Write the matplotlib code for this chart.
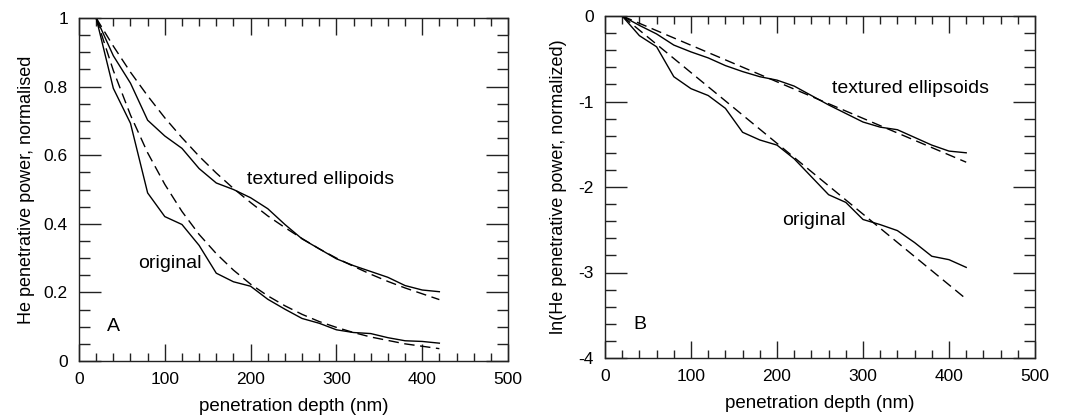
import matplotlib
matplotlib.use("Agg")
import matplotlib.pyplot as plt
from matplotlib.ticker import MultipleLocator

plt.rcParams['font.family'] = ['Liberation Sans', 'DejaVu Sans']

depth = [20, 40, 60, 80, 100, 120, 140, 160, 180, 200, 220, 240, 260, 280,
         300, 320, 340, 360, 380, 400, 420]

# Panel A: normalised He penetrative power
a_original = [1.0, 0.795, 0.693, 0.49, 0.421, 0.398, 0.337, 0.256, 0.231, 0.218,
              0.18, 0.151, 0.124, 0.110, 0.091, 0.083, 0.080, 0.068, 0.059, 0.057, 0.052]
a_original_fit = [1.0, 0.847, 0.717, 0.607, 0.515, 0.436, 0.369, 0.313, 0.265, 0.224,
                  0.190, 0.161, 0.136, 0.115, 0.098, 0.083, 0.070, 0.060, 0.050, 0.043, 0.036]
a_textured = [1.0, 0.89, 0.81, 0.702, 0.656, 0.62, 0.561, 0.519, 0.50, 0.476,
              0.444, 0.398, 0.356, 0.327, 0.298, 0.278, 0.261, 0.244, 0.22, 0.207, 0.202]
a_textured_fit = [1.0, 0.918, 0.842, 0.773, 0.709, 0.651, 0.597, 0.548, 0.503, 0.462,
                  0.423, 0.389, 0.357, 0.327, 0.300, 0.276, 0.253, 0.232, 0.213, 0.196, 0.179]

# Panel B: ln of normalised power
b_original = [0.0, -0.23, -0.36, -0.71, -0.85, -0.93, -1.08, -1.36, -1.45, -1.51,
              -1.67, -1.88, -2.09, -2.18, -2.38, -2.44, -2.51, -2.65, -2.81, -2.85, -2.94]
b_original_fit_x = [20, 420]
b_original_fit = [0.0, -3.31]
b_textured = [0.0, -0.11, -0.21, -0.34, -0.42, -0.49, -0.58, -0.65, -0.71, -0.75,
              -0.82, -0.93, -1.04, -1.14, -1.24, -1.30, -1.33, -1.42, -1.51, -1.58, -1.60]
b_textured_fit_x = [20, 420]
b_textured_fit = [0.0, -1.71]

fig = plt.figure(figsize=(10.7, 4.18), dpi=100)
axA = fig.add_axes([79/1070, 1-361/418, 429/1070, 343/418])
axB = fig.add_axes([605/1070, 1-358/418, 430/1070, 342/418])

dash = (7.5, 4)
lw = 1.0
fs_tick = 12.5
fs_label = 13.5
fs_text = 14

def style(ax):
    for s in ax.spines.values():
        s.set_linewidth(1.0)
        s.set_color('#222222')
    ax.tick_params(which='both', direction='in', top=True, right=True,
                   labelsize=fs_tick, width=1.0, color='#222222', pad=8)
    ax.tick_params(axis='x', which='major', length=12)
    ax.tick_params(axis='x', which='minor', length=6)
    ax.tick_params(axis='y', which='major', length=16)
    ax.tick_params(axis='y', which='minor', length=8)
    ax.xaxis.set_major_locator(MultipleLocator(100))
    ax.xaxis.set_minor_locator(MultipleLocator(20))
    ax.set_xlim(0, 500)
    ax.set_xlabel('penetration depth (nm)', fontsize=fs_label, labelpad=8)

# Panel A
axA.plot(depth, a_original, color='black', lw=lw)
axA.plot(depth, a_original_fit, color='black', lw=lw, dashes=dash)
axA.plot(depth, a_textured, color='black', lw=lw)
axA.plot(depth, a_textured_fit, color='black', lw=lw, dashes=dash)
style(axA)
axA.set_ylim(0, 1)
axA.yaxis.set_minor_locator(MultipleLocator(0.05))
axA.set_yticks([0, 0.2, 0.4, 0.6, 0.8, 1.0])
axA.set_yticklabels(['0', '0.2', '0.4', '0.6', '0.8', '1'])
axA.set_ylabel('He penetrative power, normalised', fontsize=13, labelpad=6)
axA.text(281, 0.53, 'textured ellipoids', fontsize=fs_text, ha='center', va='center')
axA.text(106, 0.285, 'original', fontsize=fs_text, ha='center', va='center')
axA.text(40, 0.10, 'A', fontsize=fs_text, ha='center', va='center')

# Panel B
axB.plot(depth, b_original, color='black', lw=lw)
axB.plot(b_original_fit_x, b_original_fit, color='black', lw=lw, dashes=dash)
axB.plot(depth, b_textured, color='black', lw=lw)
axB.plot(b_textured_fit_x, b_textured_fit, color='black', lw=lw, dashes=dash)
style(axB)
axB.set_ylim(-4, 0)
axB.yaxis.set_minor_locator(MultipleLocator(0.2))
axB.set_yticks([-4, -3, -2, -1, 0])
axB.set_yticklabels(['-4', '-3', '-2', '-1', '0'])
axB.set_ylabel('ln(He penetrative power, normalized)', fontsize=13, labelpad=8)
axB.text(355, -0.85, 'textured ellipsoids', fontsize=fs_text, ha='center', va='center')
axB.text(243, -2.39, 'original', fontsize=fs_text, ha='center', va='center')
axB.text(40, -3.61, 'B', fontsize=fs_text, ha='center', va='center')

fig.savefig('out.png', dpi=100)
